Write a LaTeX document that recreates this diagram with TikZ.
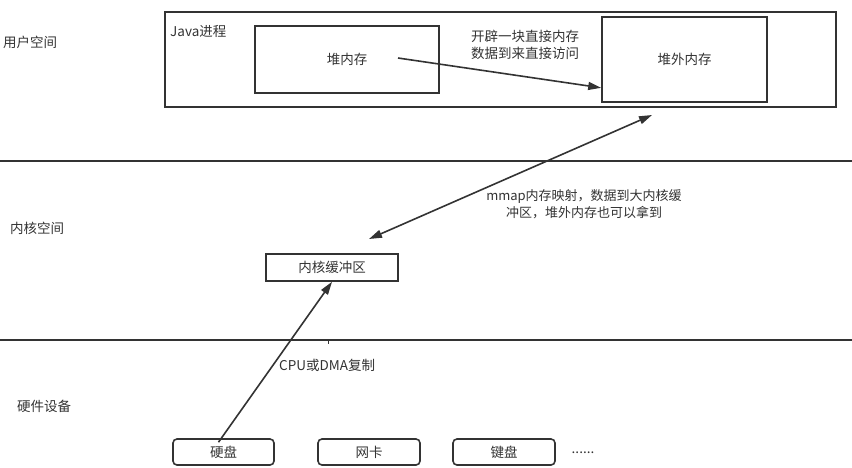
\documentclass[tikz,border=0pt]{standalone}
\usepackage{fontspec}
\usepackage{xcolor}
\usetikzlibrary{arrows.meta}
\setmainfont{Noto Sans CJK SC}
\definecolor{ink}{HTML}{333333}
\tikzstyle{every node}+=[inner sep=0pt]
\tikzstyle{box}=[draw=ink, line width=1.6pt, rectangle]
\tikzstyle{devbox}=[box, rounded corners=4pt, minimum height=26pt]
\tikzstyle{txt}=[text=ink, font=\fontsize{13.5}{17}\selectfont, align=center]
\tikzstyle{conn}=[draw=ink, line width=1.6pt, -{Triangle[length=13pt,width=8pt]}]

\begin{document}
\begin{tikzpicture}[x=1pt, y=-1pt]
\useasboundingbox (0,0) rectangle (852,467);

% layer lines
\draw [ink, line width=1.6pt] (0,161) -- (852,161);
\draw [ink, line width=1.6pt] (0,340) -- (852,340);
\draw [ink, line width=1pt] (328,340) -- (328,344);

% layer names
\node [txt] (user) at (30,42) {用户空间};
\node [txt] (kernel) at (37,228) {内核空间};
\node [txt] (hw) at (44,406) {硬件设备};

% java process
\node [box, minimum width=671pt, minimum height=95pt] (proc) at (500.5,59.5) {};
\node [txt, anchor=west] (proclbl) at (170,31) {Java进程};
\node [box, minimum width=184pt, minimum height=67pt, txt] (heap) at (347,59.5) {堆内存};
\node [box, minimum width=165pt, minimum height=85pt, txt] (offheap) at (684.5,59.5) {堆外内存};
\node [txt] (directlbl) at (525,45) {开辟一块直接内存\\数据到来直接访问};

% kernel buffer
\node [box, minimum width=132pt, minimum height=27pt, txt] (kbuf) at (332,267.5) {内核缓冲区};
\node [txt, font=\fontsize{13}{17}\selectfont] (mmaplbl) at (584,204) {mmap内存映射，数据到大内核缓\\冲区，堆外内存也可以拿到};

% devices
\node [devbox, minimum width=101pt, txt] (disk) at (223.5,452) {硬盘};
\node [devbox, minimum width=102pt, txt] (nic) at (369,452) {网卡};
\node [devbox, minimum width=102pt, txt] (kbd) at (504,452) {键盘};
\node [txt] (more) at (583,453) {......};
\node [txt, anchor=west] (copylbl) at (279,365) {CPU或DMA复制};

% arrows
\coordinate (heapout) at (398,58);
\coordinate (mmaptop) at (652,115);
\coordinate (mmapbot) at (369,239);
\draw [conn] (heapout) -- ([yshift=15pt]offheap.south west);
\draw [conn, {Triangle[length=13pt,width=8pt]}-{Triangle[length=13pt,width=8pt]}] (mmapbot) -- (mmaptop);
\draw [conn] ([xshift=-5pt,yshift=-4pt]disk.north) -- (kbuf.south);
\end{tikzpicture}
\end{document}
